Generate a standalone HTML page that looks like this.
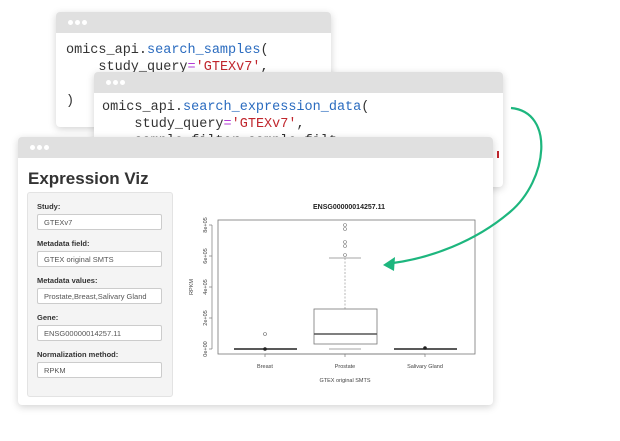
<!DOCTYPE html>
<html><head><style>
body{margin:0;width:620px;height:441px;background:#fff;position:relative;overflow:hidden;font-family:"Liberation Sans",sans-serif}
.win{position:absolute;background:#fff;border-radius:4px;box-shadow:0 2px 8px rgba(0,0,0,.18);overflow:hidden}
.hd{background:#e0e0e0;height:21px;position:relative}
.hd i{position:absolute;top:8px;width:5px;height:5px;border-radius:50%;background:#fff}
.code{position:absolute;font-family:"Liberation Mono",monospace;font-size:13.5px;color:#333;white-space:pre;line-height:17px}
.b{color:#2a6bbf}.r{color:#c0262d}.m{color:#b33bd6}
.lab{position:absolute;left:37px;font-size:7.5px;font-weight:bold;color:#333}
.inp{position:absolute;left:37px;width:125px;height:16px;border:1px solid #ccc;border-radius:2px;background:#fff;font-size:7.5px;color:#555;line-height:16px;padding-left:6px;box-sizing:border-box}
</style></head><body>
<div class="win" style="left:56px;top:12px;width:275px;height:115px"><div class="hd"><i style="left:12px"></i><i style="left:19px"></i><i style="left:26px"></i></div></div>
<div class="code" style="left:66px;top:42px">omics_api.<span class="b">search_samples</span>(
    study_query<span class="m">=</span><span class="r">'GTEXv7'</span>,

)</div>
<div class="win" style="left:94px;top:72px;width:409px;height:115px"><div class="hd"><i style="left:12px"></i><i style="left:19px"></i><i style="left:26px"></i></div></div>
<div class="code" style="left:102px;top:99px">omics_api.<span class="b">search_expression_data</span>(
    study_query<span class="m">=</span><span class="r">'GTEXv7'</span>,
    sample_filter=sample_filt</div>
<div style="position:absolute;left:497px;top:151px;width:1.5px;height:7px;background:#c0262d"></div>
<div class="win" style="left:18px;top:137px;width:475px;height:268px"><div class="hd"><i style="left:12px"></i><i style="left:19px"></i><i style="left:26px"></i></div>
<div style="position:absolute;left:10px;top:32px;font-size:17px;font-weight:bold;color:#333">Expression Viz</div>
<div style="position:absolute;left:9px;top:55px;width:144px;height:203px;background:#f4f4f4;border:1px solid #e3e3e3;border-radius:3px"></div>
</div>
<div class="lab" style="top:202px">Study:</div><div class="inp" style="top:214px">GTEXv7</div>
<div class="lab" style="top:239px">Metadata field:</div><div class="inp" style="top:251px">GTEX original SMTS</div>
<div class="lab" style="top:276px">Metadata values:</div><div class="inp" style="top:288px">Prostate,Breast,Salivary Gland</div>
<div class="lab" style="top:313px">Gene:</div><div class="inp" style="top:325px">ENSG00000014257.11</div>
<div class="lab" style="top:350px">Normalization method:</div><div class="inp" style="top:362px">RPKM</div>
<svg width="620" height="441" style="position:absolute;left:0;top:0" font-family="Liberation Sans,sans-serif">
<text x="349" y="209" font-size="7" font-weight="bold" text-anchor="middle" fill="#222">ENSG00000014257.11</text>
<rect x="218" y="220" width="257" height="134" fill="none" stroke="#777" stroke-width="0.8"/>
<g stroke="#777" stroke-width="0.7"><line x1="212" y1="225" x2="212" y2="349"/>
<line x1="209" y1="225" x2="212" y2="225"/><line x1="209" y1="256" x2="212" y2="256"/><line x1="209" y1="287" x2="212" y2="287"/><line x1="209" y1="318" x2="212" y2="318"/><line x1="209" y1="349" x2="212" y2="349"/>
<line x1="265" y1="354" x2="425" y2="354"/><line x1="265" y1="354" x2="265" y2="357"/><line x1="345" y1="354" x2="345" y2="357"/><line x1="425" y1="354" x2="425" y2="357"/></g>
<g font-size="5.5" fill="#444">
<text transform="translate(207,349) rotate(-90)" text-anchor="middle">0e+00</text>
<text transform="translate(207,318) rotate(-90)" text-anchor="middle">2e+05</text>
<text transform="translate(207,287) rotate(-90)" text-anchor="middle">4e+05</text>
<text transform="translate(207,256) rotate(-90)" text-anchor="middle">6e+05</text>
<text transform="translate(207,225) rotate(-90)" text-anchor="middle">8e+05</text>
<text transform="translate(193,287) rotate(-90)" text-anchor="middle">RPKM</text>
<text x="265" y="368" text-anchor="middle">Breast</text>
<text x="345" y="368" text-anchor="middle">Prostate</text>
<text x="425" y="368" text-anchor="middle">Salivary Gland</text>
<text x="345" y="382" text-anchor="middle">GTEX original SMTS</text></g>
<g stroke="#222" stroke-width="1.5"><line x1="234" y1="349" x2="297" y2="349"/><line x1="394" y1="349" x2="457" y2="349"/></g>
<circle cx="265" cy="349" r="1.8" fill="#222"/><circle cx="425" cy="348" r="1.8" fill="#222"/>
<circle cx="265" cy="334" r="1.5" fill="none" stroke="#666" stroke-width="0.6"/>
<rect x="314" y="309" width="63" height="35" fill="#fff" stroke="#777" stroke-width="0.8"/>
<line x1="314" y1="334" x2="377" y2="334" stroke="#555" stroke-width="1.5"/>
<line x1="345" y1="309" x2="345" y2="258" stroke="#888" stroke-width="0.6" stroke-dasharray="2,1.5"/>
<line x1="329" y1="258" x2="361" y2="258" stroke="#888" stroke-width="0.7"/>
<line x1="329" y1="349" x2="361" y2="349" stroke="#888" stroke-width="0.7"/>
<g fill="none" stroke="#777" stroke-width="0.6"><circle cx="345" cy="255" r="1.5"/><circle cx="345" cy="242" r="1.5"/><circle cx="345" cy="246" r="1.5"/><circle cx="345" cy="225" r="1.5"/><circle cx="345" cy="229" r="1.5"/></g>
<path d="M511,108 C555,112 548,180 510,212 C475,242 430,258 393,263" fill="none" stroke="#1db67e" stroke-width="2.2"/>
<polygon points="383,265 395,257 394,271" fill="#1db67e"/>
</svg>
</body></html>
